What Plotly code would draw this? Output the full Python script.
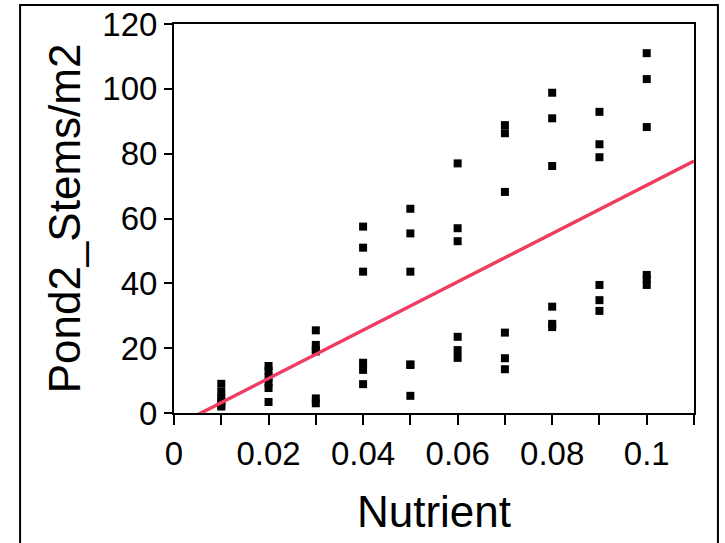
import numpy as np
import plotly.graph_objects as go

# ---- data ----
nutrient_levels = [0.01, 0.02, 0.03, 0.04, 0.05, 0.06, 0.07, 0.08, 0.09, 0.10]
stems_001 = [9.0, 6.5, 4.5, 3.5, 2.5, 2.0]
stems_002 = [14.5, 13.0, 11.0, 9.3, 7.7, 3.4]
stems_003 = [25.5, 21.0, 19.5, 19.0, 4.5, 3.0]
stems_004 = [57.5, 51.0, 43.6, 15.5, 13.3, 8.9]
stems_005 = [63.0, 55.4, 43.6, 15.0, 14.8, 5.3]
stems_006 = [77.0, 57.0, 53.0, 23.5, 19.4, 17.0]
stems_007 = [88.8, 86.3, 68.2, 24.8, 16.9, 13.5]
stems_008 = [98.8, 90.9, 76.2, 32.8, 27.5, 26.5]
stems_009 = [92.9, 82.9, 78.9, 39.5, 34.8, 31.5]
stems_010 = [111.0, 103.0, 88.2, 42.6, 41.3, 39.5]
stems_by_level = [stems_001, stems_002, stems_003, stems_004, stems_005,
                  stems_006, stems_007, stems_008, stems_009, stems_010]

# linear fit line as drawn in the reference (Stems = intercept + slope * Nutrient)
fit_intercept = -4.25
fit_slope = 745.0
fit_x_range = [0.0, 0.11]

x_tickvals = [0, 0.01, 0.02, 0.03, 0.04, 0.05, 0.06, 0.07, 0.08, 0.09, 0.10, 0.11]
x_ticktext = ["0", "", "0.02", "", "0.04", "", "0.06", "", "0.08", "", "0.1", ""]
y_tickvals = [0, 20, 40, 60, 80, 100, 120]

x_title = "Nutrient"
y_title = "Pond2_Stems/m2"

# ---- build ----
xs = []
ys = []
for lvl, vals in zip(nutrient_levels, stems_by_level):
    xs.extend([lvl] * len(vals))
    ys.extend(vals)

x_line = np.array(fit_x_range)
y_line = fit_intercept + fit_slope * x_line

FONT = "Liberation Sans, Arial, sans-serif"

fig = go.Figure()
fig.add_trace(go.Scatter(
    x=xs, y=ys, mode="markers",
    marker=dict(symbol="square", size=8, color="black"),
    cliponaxis=False, showlegend=False, hoverinfo="x+y",
))
fig.add_trace(go.Scatter(
    x=x_line, y=y_line, mode="lines",
    line=dict(color="#EE3D5E", width=3.5),
    showlegend=False, hoverinfo="skip",
))

axis_common = dict(
    showgrid=False, zeroline=False, automargin=False,
    showline=True, linecolor="black", linewidth=2, mirror=True,
    ticks="outside", tickwidth=2, tickcolor="black",
    ticklabeloverflow="allow",
    tickfont=dict(family=FONT, size=33, color="black"),
)

fig.update_xaxes(
    range=[0, 0.11], tickmode="array", tickvals=x_tickvals, ticktext=x_ticktext,
    ticklen=10,
    title=dict(text=x_title, font=dict(family=FONT, size=44, color="black"), standoff=26),
    **axis_common,
)
fig.update_yaxes(
    range=[0, 120], tickmode="array", tickvals=y_tickvals, ticklen=8,
    title=dict(text=y_title, font=dict(family=FONT, size=44, color="black"), standoff=8),
    **axis_common,
)

# outer frame around the whole graphic
fig.add_shape(
    type="rect", xref="paper", yref="paper",
    x0=-0.296, x1=1.046, y0=-0.35, y1=1.049,
    line=dict(color="black", width=2), fillcolor="rgba(0,0,0,0)", layer="below",
)

fig.update_layout(
    width=725, height=543,
    margin=dict(l=174, r=31, t=24, b=130, autoexpand=False),
    paper_bgcolor="white", plot_bgcolor="white",
    font=dict(family=FONT, color="black"),
    showlegend=False,
)

# remove the browser's default 8px body margin so the figure fills the window exactly
fig.write_html(
    "out.html",
    config={"displayModeBar": False},
    post_script="document.body.style.margin='0';",
)
